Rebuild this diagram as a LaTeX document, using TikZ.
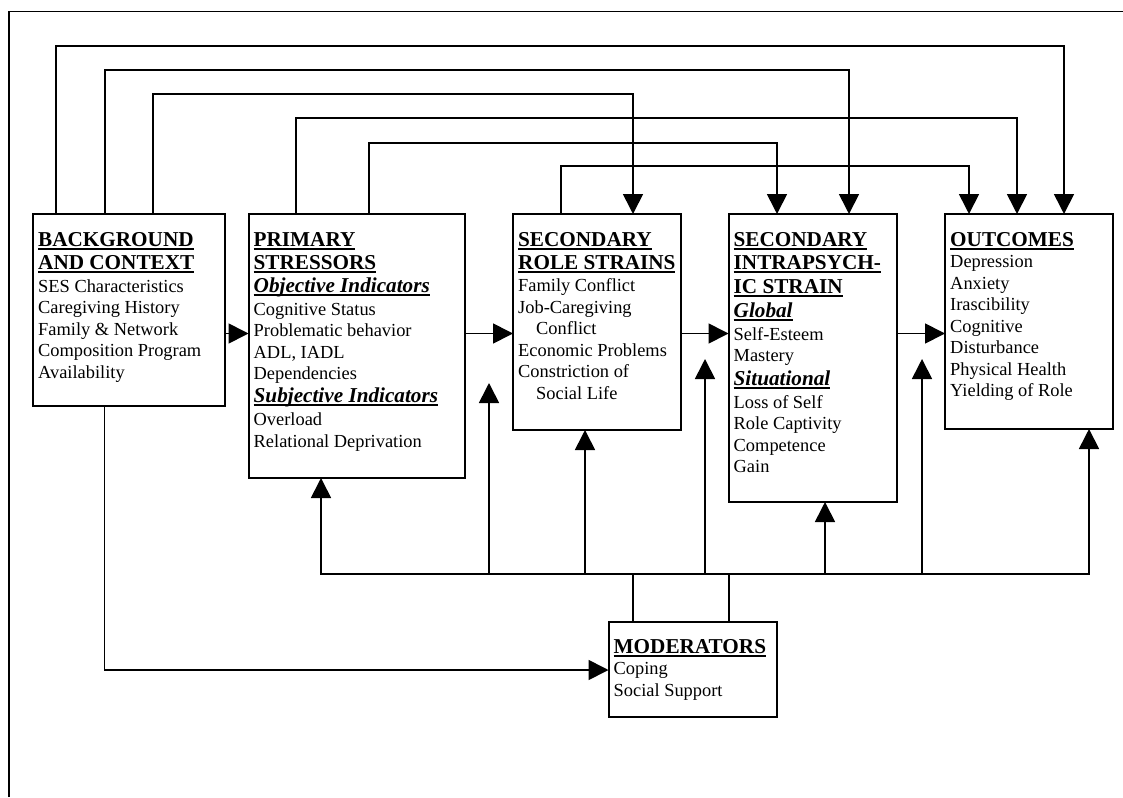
\documentclass[tikz,border=0pt]{standalone}
\usepackage{fontspec}
\setmainfont{Liberation Serif}
\usetikzlibrary{arrows.meta,calc}
\newcommand\hul[1]{\setbox0\hbox{#1}\rlap{\rule[-3.4pt]{\wd0}{1.7pt}}\box0}
\newcommand\hd[1]{{\fontsize{21.2}{21.5}\selectfont\bfseries\hul{#1}}}
\newcommand\shd[1]{{\fontsize{21.2}{21.5}\selectfont\bfseries\itshape\hul{#1}}}
\newcommand\st{\rule{0pt}{15pt}}
\begin{document}
\begin{tikzpicture}[x=1pt,y=-1pt,
  box/.style={draw,line width=2pt,inner sep=0pt,outer sep=0pt,anchor=north west},
  txt/.style={anchor=north west,inner sep=0pt,align=left,font=\fontsize{18.4}{21.5}\selectfont},
  conn/.style={line width=1.7pt},
  arr/.style={conn,-{Triangle[length=20pt,width=20pt]}},
  frame/.style={line width=1.8pt}]
\useasboundingbox (0,0) rectangle (1123,797);
\draw[frame] (8.6,797) -- (8.6,11.5) -- (1123,11.5);

% boxes
\node[box,minimum width=192pt,minimum height=192pt] (bg) at (33,214) {};
\node[box,minimum width=216.5pt,minimum height=264pt] (ps) at (248.5,214) {};
\node[box,minimum width=168pt,minimum height=216pt] (rs) at (513,214) {};
\node[box,minimum width=168.5pt,minimum height=288pt] (ip) at (728.5,214) {};
\node[box,minimum width=167.5pt,minimum height=215pt] (oc) at (945,214) {};
\node[box,minimum width=168.5pt,minimum height=95pt] (mod) at (608.5,622) {};

% texts
\node[txt] (bgt) at ($(bg.north west)+(5,17)$) {\st\hd{BACKGROUND}\\[1.5pt]\hd{AND CONTEXT}\\[1.5pt]SES Characteristics\\Caregiving History\\Family \& Network\\Composition Program\\Availability};
\node[txt] (pst) at ($(ps.north west)+(5,17)$) {\st\hd{PRIMARY}\\[1.5pt]\hd{STRESSORS}\\[1.5pt]\shd{Objective Indicators}\\[1.5pt]Cognitive Status\\Problematic behavior\\ADL, IADL\\Dependencies\\[1.5pt]\shd{Subjective Indicators}\\[1.5pt]Overload\\Relational Deprivation};
\node[txt] (rst) at ($(rs.north west)+(5,17)$) {\st\hd{SECONDARY}\\[1.5pt]\hd{ROLE STRAINS}\\[1pt]Family Conflict\\Job-Caregiving\\\hspace*{18pt}Conflict\\Economic Problems\\Constriction of\\\hspace*{18pt}Social Life};
\node[txt] (ipt) at ($(ip.north west)+(5,17)$) {\st\hd{SECONDARY}\\[1.5pt]\hd{INTRAPSYCH-}\\[2.5pt]\hd{IC STRAIN}\\[2.5pt]\shd{Global}\\[1.5pt]Self-Esteem\\Mastery\\[2pt]\shd{Situational}\\[1.5pt]Loss of Self\\Role Captivity\\Competence\\Gain};
\node[txt] (oct) at ($(oc.north west)+(5,17)$) {\st\hd{OUTCOMES}\\Depression\\Anxiety\\Irascibility\\Cognitive\\Disturbance\\Physical Health\\Yielding of Role};
\node[txt] (modt) at ($(mod.north west)+(5,16)$) {\st\hd{MODERATORS}\\Coping\\Social Support};

% top connectors
\coordinate (a1) at (56,46);    \coordinate (a2) at (1064,46);
\coordinate (b1) at (105,70);   \coordinate (b2) at (849,70);
\coordinate (c1) at (153,94);   \coordinate (c2) at (633,94);
\coordinate (d1) at (296,118);  \coordinate (d2) at (1017,118);
\coordinate (e1) at (369,143);  \coordinate (e2) at (777,143);
\coordinate (f1) at (561,166);  \coordinate (f2) at (969,166);
\draw[arr] (bg.north -| a1) -- (a1) -- (a2) -- (oc.north -| a2);
\draw[arr] (bg.north -| b1) -- (b1) -- (b2) -- (ip.north -| b2);
\draw[arr] (bg.north -| c1) -- (c1) -- (c2) -- (rs.north -| c2);
\draw[arr] (ps.north -| d1) -- (d1) -- (d2) -- (oc.north -| d2);
\draw[arr] (ps.north -| e1) -- (e1) -- (e2) -- (ip.north -| e2);
\draw[arr] (rs.north -| f1) -- (f1) -- (f2) -- (oc.north -| f2);

% middle chain
\coordinate (mid) at (0,333.5);
\draw[arr] (bg.east |- mid) -- (ps.west |- mid);
\draw[arr] (ps.east |- mid) -- (rs.west |- mid);
\draw[arr] (rs.east |- mid) -- (ip.west |- mid);
\draw[arr] (ip.east |- mid) -- (oc.west |- mid);

% background to moderators
\coordinate (g0) at (104.5,670);
\draw[arr] (bg.south -| g0) -- (g0) -- (mod.west |- g0);

% moderator bus
\coordinate (h0) at (321,574);
\coordinate (h1) at (489,574);
\coordinate (h2) at (585,574);
\coordinate (h3) at (633,574);
\coordinate (h4) at (705,574);
\coordinate (h5) at (729,574);
\coordinate (h6) at (825,574);
\coordinate (h7) at (922,574);
\coordinate (h8) at (1089,574);
\coordinate (t1) at (489,383);
\coordinate (t4) at (705,359);
\coordinate (t7) at (922,359);
\draw[conn,line cap=rect] (h0) -- (h8);
\draw[conn] (mod.north -| h3) -- (h3);
\draw[conn] (mod.north -| h5) -- (h5);
\draw[arr] (h0) -- (ps.south -| h0);
\draw[arr] (h1) -- (t1);
\draw[arr] (h2) -- (rs.south -| h2);
\draw[arr] (h4) -- (t4);
\draw[arr] (h6) -- (ip.south -| h6);
\draw[arr] (h7) -- (t7);
\draw[arr] (h8) -- (oc.south -| h8);
\end{tikzpicture}
\end{document}
